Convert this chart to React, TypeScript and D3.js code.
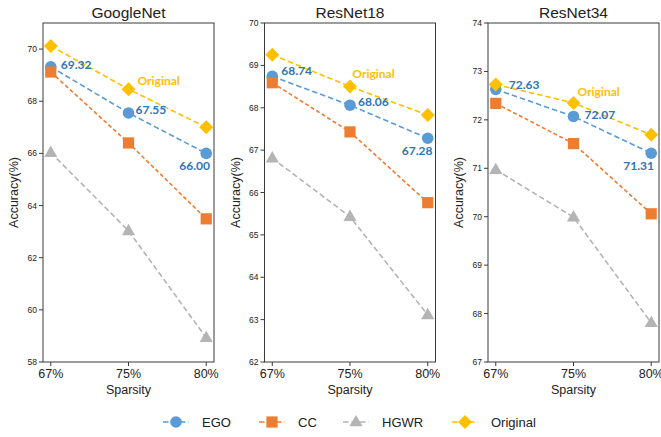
import React from "react";
import * as d3 from "d3";

const categories = ["67%", "75%", "80%"];
const seriesNames = ["EGO", "CC", "HGWR", "Original"];

const panelTitles = ["GoogleNet", "ResNet18", "ResNet34"];
const yDomains: [number, number][] = [[58, 71], [62, 70], [67, 74]];
const yTickValues = [
  [58, 60, 62, 64, 66, 68, 70],
  [62, 63, 64, 65, 66, 67, 68, 69, 70],
  [67, 68, 69, 70, 71, 72, 73, 74],
];

const egoValues = [
  [69.32, 67.55, 66.0],
  [68.74, 68.06, 67.28],
  [72.63, 72.07, 71.31],
];
const ccValues = [
  [69.12, 66.4, 63.49],
  [68.59, 67.43, 65.76],
  [72.34, 71.51, 70.06],
];
const hgwrValues = [
  [66.03, 63.03, 58.93],
  [66.81, 65.43, 63.11],
  [70.97, 69.99, 67.81],
];
const originalValues = [
  [70.12, 68.46, 67.0],
  [69.25, 68.5, 67.83],
  [72.73, 72.35, 71.69],
];

const colors = {
  EGO: "#5B9BD5",
  CC: "#ED7D31",
  HGWR: "#B4B4B4",
  Original: "#FFC000",
};
const egoLabelColor = "#2E75B6";

const panelLefts = [43, 264.5, 488];
const panelWidth = 171;
const top = 23;
const bottom = 362;

// label offsets (pixel nudges relative to point: start x, vertical centre)
const egoLabelOffsets = [
  [[10, -2.5], [7, -3], [-27, 12]],
  [[9, -6], [8, -3], [-26, 13]],
  [[13, -5], [11, -1.5], [-28, 13]],
];
const originalLabelPos = [
  [1.115, 68.61],
  [1.03, 68.7],
  [1.05, 72.49],
];

function Marker({ type, x, y }: { type: string; x: number; y: number }) {
  if (type === "EGO") return <circle cx={x} cy={y} r={5.8} fill={colors.EGO} />;
  if (type === "CC")
    return <rect x={x - 5.6} y={y - 5.6} width={11.2} height={11.2} fill={colors.CC} />;
  if (type === "HGWR") {
    const s = d3.symbol().type(d3.symbolTriangle).size(75)();
    return <path d={s || ""} transform={`translate(${x},${y + 0.5})`} fill={colors.HGWR} />;
  }
  const s = d3.symbol().type(d3.symbolDiamond2).size(125)();
  return <path d={s || ""} transform={`translate(${x},${y})`} fill={colors.Original} />;
}

const sans = "'Liberation Sans', Arial, sans-serif";
const labelFont = "Lato, 'Open Sans', sans-serif";

function Panel({ i }: { i: number }) {
  const left = panelLefts[i];
  const x = d3.scaleLinear().domain([-0.1, 2.1]).range([left, left + panelWidth]);
  const y = d3.scaleLinear().domain(yDomains[i]).range([bottom, top]);
  const series: [string, number[]][] = [
    ["EGO", egoValues[i]],
    ["CC", ccValues[i]],
    ["HGWR", hgwrValues[i]],
    ["Original", originalValues[i]],
  ];
  const line = d3
    .line<number>()
    .x((_, k) => x(k))
    .y((v) => y(v));
  const dashes: Record<string, string> = {
    EGO: "5.5,3",
    CC: "4,2.5",
    HGWR: "5.5,3",
    Original: "5.5,3",
  };
  return (
    <g>
      <text
        x={left + panelWidth / 2}
        y={17.5}
        textAnchor="middle"
        fontSize={15.5}
        fontWeight={400}
        fontFamily={sans}
        fill="#222"
      >
        {panelTitles[i]}
      </text>
      {series.map(([name, vals]) => (
        <path
          key={name}
          d={line(vals) || ""}
          fill="none"
          stroke={(colors as any)[name]}
          strokeWidth={1.6}
          strokeDasharray={dashes[name]}
        />
      ))}
      {series.map(([name, vals]) =>
        vals.map((v, k) => <Marker key={name + k} type={name} x={x(k)} y={y(v)} />)
      )}
      {egoValues[i].map((v, k) => (
        <text
          key={"l" + k}
          x={x(k) + egoLabelOffsets[i][k][0]}
          y={y(v) + egoLabelOffsets[i][k][1] + 4.2}
          fontSize={12}
          fontWeight="bold"
          fontFamily={labelFont}
          fill={egoLabelColor}
        >
          {v.toFixed(2)}
        </text>
      ))}
      <text
        x={x(originalLabelPos[i][0])}
        y={y(originalLabelPos[i][1])}
        fontSize={12}
        fontWeight="bold"
        fontFamily={labelFont}
        fill={colors.Original}
      >
        Original
      </text>
      <rect
        x={left}
        y={top}
        width={panelWidth}
        height={bottom - top}
        fill="none"
        stroke="#3a3a3a"
        strokeWidth={1}
      />
      {yTickValues[i].map((t) => (
        <g key={"y" + t}>
          <line x1={left - 4} x2={left} y1={y(t)} y2={y(t)} stroke="#3a3a3a" />
          <text
            x={left - 6}
            y={y(t) + 3}
            textAnchor="end"
            fontSize={8.5}
            fontFamily={sans}
            fill="#222"
          >
            {t}
          </text>
        </g>
      ))}
      {categories.map((c, k) => (
        <g key={"x" + c}>
          <line x1={x(k)} x2={x(k)} y1={bottom} y2={bottom + 4} stroke="#3a3a3a" />
          <text
            x={x(k)}
            y={bottom + 16}
            textAnchor="middle"
            fontSize={12.5}
            fontFamily={sans}
            fill="#222"
          >
            {c}
          </text>
        </g>
      ))}
      <text
        x={left + panelWidth / 2}
        y={bottom + 32}
        textAnchor="middle"
        fontSize={12.5}
        fontFamily={sans}
        fill="#222"
      >
        Sparsity
      </text>
      <text
        transform={`translate(${left - 25},${(top + bottom) / 2}) rotate(-90)`}
        textAnchor="middle"
        fontSize={12.5}
        fontFamily={sans}
        fill="#222"
      >
        Accuracy(%)
      </text>
    </g>
  );
}

const legendX = [163, 259, 343, 452];
const legendY = 422;

export default function App() {
  return (
    <svg width={661} height={437} style={{ position: "absolute", left: 0, top: 0, background: "#fff" }}>
      {[0, 1, 2].map((i) => (
        <Panel key={i} i={i} />
      ))}
      {seriesNames.map((name, k) => (
        <g key={name}>
          <line
            x1={legendX[k]}
            x2={legendX[k] + 26}
            y1={legendY}
            y2={legendY}
            stroke={(colors as any)[name]}
            strokeWidth={1.6}
            strokeDasharray="5.5,3"
          />
          <Marker type={name} x={legendX[k] + 13} y={legendY} />
          <text
            x={legendX[k] + 39}
            y={legendY + 4.5}
            fontSize={13}
            fontFamily={sans}
            fill="#222"
          >
            {name}
          </text>
        </g>
      ))}
    </svg>
  );
}
